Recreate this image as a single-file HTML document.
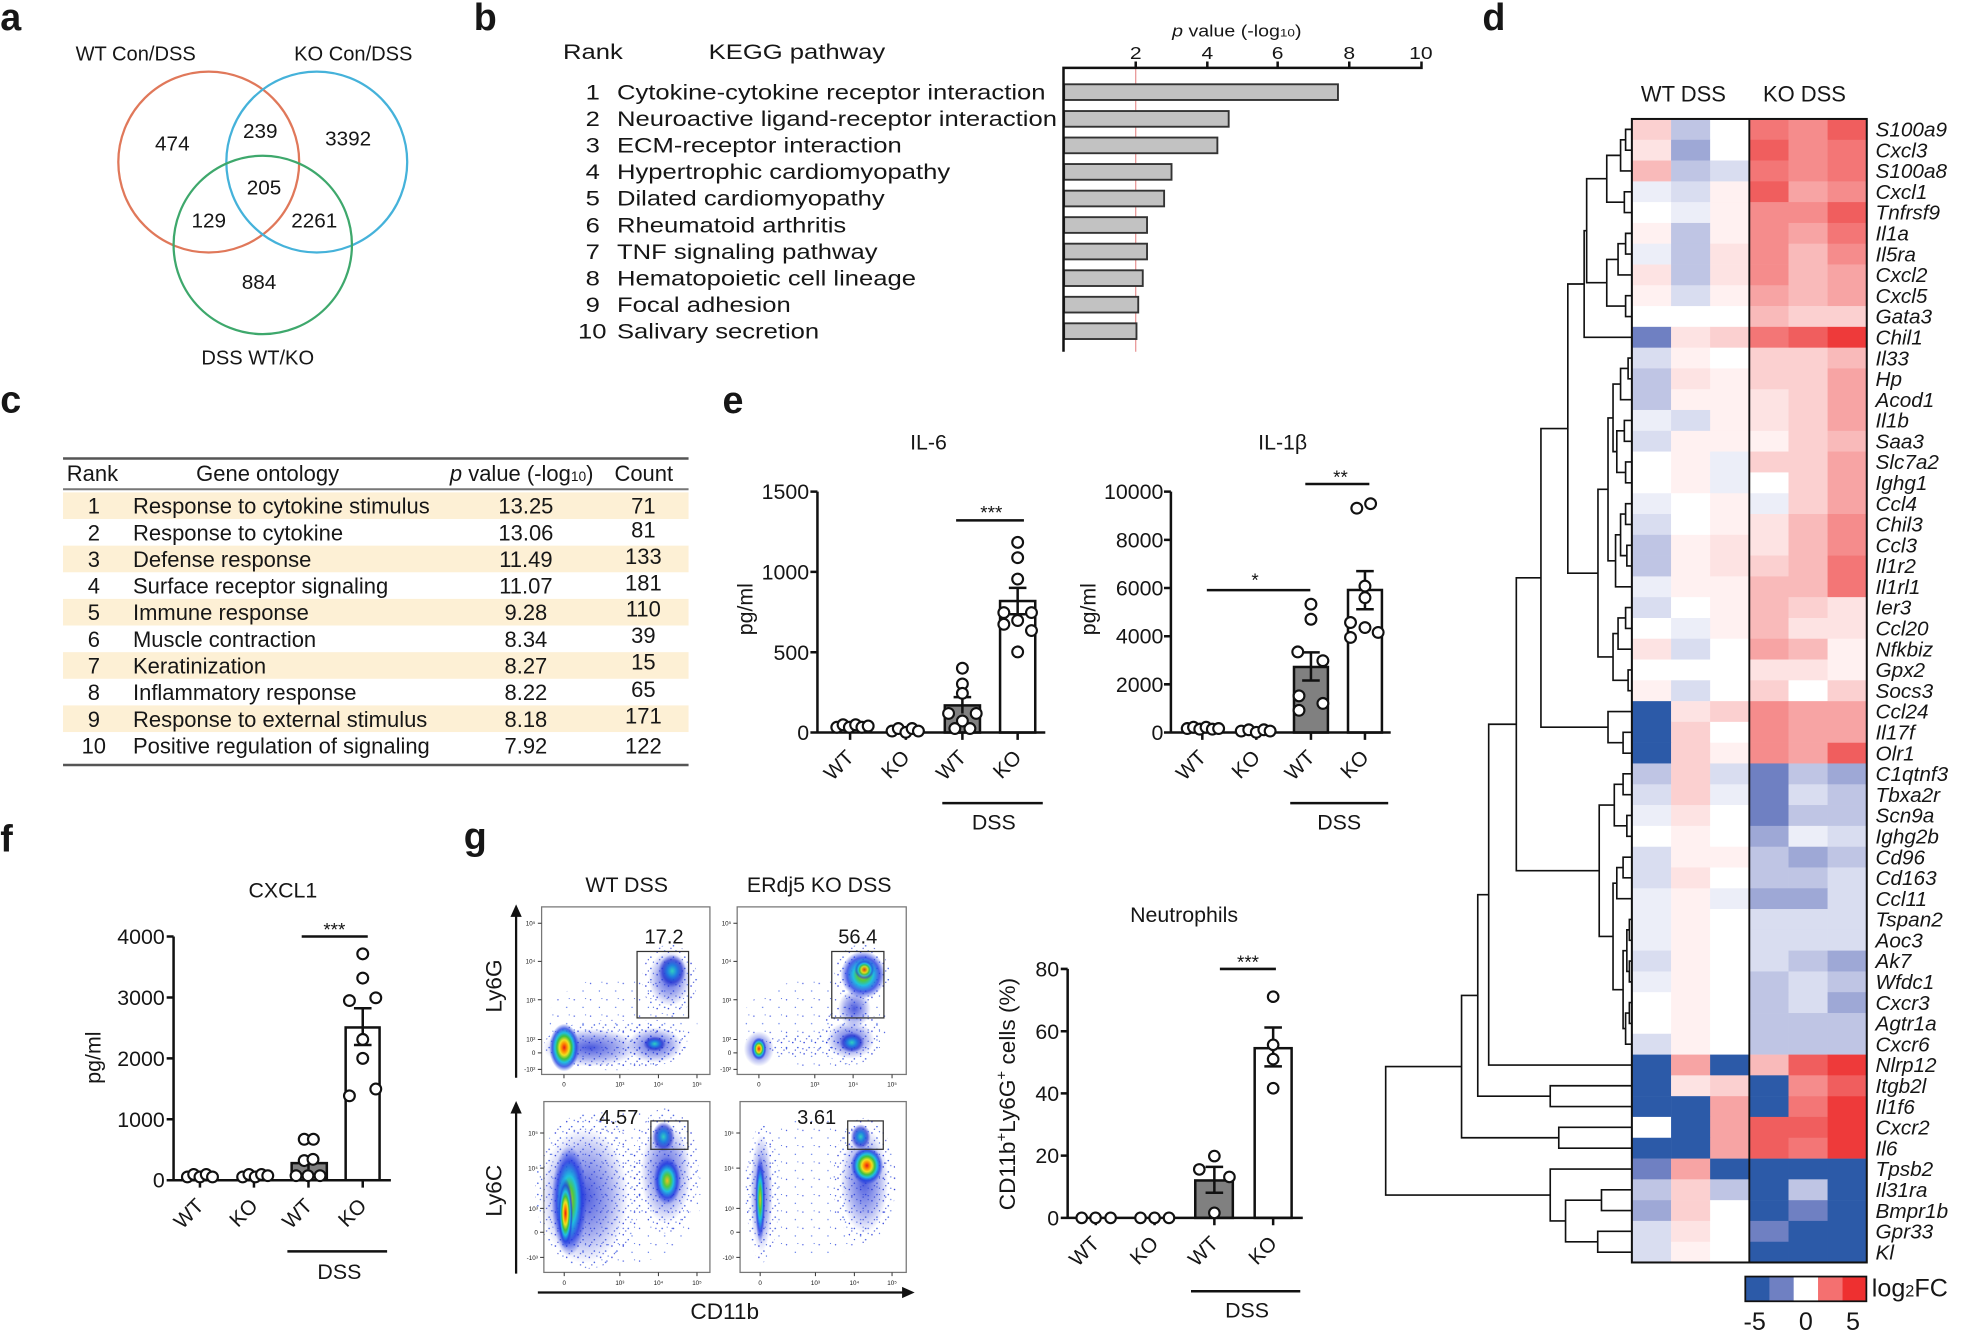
<!DOCTYPE html>
<html><head><meta charset="utf-8">
<style>
html,body{margin:0;padding:0;background:#fff;}
svg{display:block;}
text{font-family:"Liberation Sans",Arial,sans-serif;fill:#161616;}
.pl{font-weight:bold;font-size:30px;}
.ax{stroke:#111;stroke-width:2;fill:none;}
.tk{font-size:17px;}
.xl{font-size:16.5px;text-anchor:end;}
.pt{fill:#fff;stroke:#111;stroke-width:1.7;}
.bar{stroke:#111;stroke-width:2;}
.hm .B{fill:#2c5aa8}.hm .b{fill:#6f80c2}.hm .v{fill:#9ea8d6}.hm .l{fill:#bfc5e4}.hm .m{fill:#d9ddf0}.hm .n{fill:#eceef8}.hm .w{fill:#ffffff}.hm .o{fill:#fff1f1}.hm .p{fill:#fde3e3}.hm .q{fill:#fbd0d0}.hm .r{fill:#f9baba}.hm .s{fill:#f7a4a4}.hm .t{fill:#f58c8c}.hm .u{fill:#f37676}.hm .x{fill:#f05e5e}.hm .z{fill:#ee3a3a}
.gn{font-size:16.5px;font-style:italic;}
.ftk{font-size:5px;fill:#333;}
</style></head><body>
<svg width="1970" height="1344" viewBox="0 0 1568 1070" xmlns="http://www.w3.org/2000/svg">
<defs>
<radialGradient id="gHot"><stop offset="0" stop-color="#e31a1c"/><stop offset="0.18" stop-color="#ff8c00"/><stop offset="0.32" stop-color="#f0e020"/><stop offset="0.48" stop-color="#40c040"/><stop offset="0.62" stop-color="#20c0e0"/><stop offset="0.8" stop-color="#2040e0" stop-opacity="0.8"/><stop offset="1" stop-color="#2040e0" stop-opacity="0"/></radialGradient>
<radialGradient id="gWarm"><stop offset="0" stop-color="#f0c020"/><stop offset="0.25" stop-color="#50c840"/><stop offset="0.45" stop-color="#20c0e0"/><stop offset="0.72" stop-color="#2038e0" stop-opacity="0.8"/><stop offset="1" stop-color="#2038e0" stop-opacity="0"/></radialGradient>
<radialGradient id="gCyan"><stop offset="0" stop-color="#30d0c0"/><stop offset="0.35" stop-color="#2080e0"/><stop offset="0.7" stop-color="#2030d0" stop-opacity="0.7"/><stop offset="1" stop-color="#2030d0" stop-opacity="0"/></radialGradient>
<radialGradient id="gCool"><stop offset="0" stop-color="#2a3cd8" stop-opacity="0.85"/><stop offset="0.6" stop-color="#2a3cd8" stop-opacity="0.4"/><stop offset="1" stop-color="#2a3cd8" stop-opacity="0"/></radialGradient>
<pattern id="spk" width="9" height="9" patternUnits="userSpaceOnUse"><circle cx="1" cy="2" r="0.6" fill="#2636d8"/><circle cx="5" cy="6" r="0.6" fill="#3050e0"/><circle cx="7" cy="1" r="0.5" fill="#4060e0"/><circle cx="3" cy="8" r="0.5" fill="#2a3cd0"/></pattern>
<pattern id="spk2" width="13" height="13" patternUnits="userSpaceOnUse"><circle cx="2" cy="3" r="0.55" fill="#3a50e0"/><circle cx="9" cy="9" r="0.55" fill="#5070e8"/><circle cx="11" cy="2" r="0.45" fill="#4060e0"/></pattern>
</defs>

<!-- ===== Panel a ===== -->
<text class="pl" x="0" y="24">a</text>
<text x="60" y="48" font-size="16">WT Con/DSS</text>
<text x="234" y="48" font-size="16">KO Con/DSS</text>
<circle cx="166" cy="129" r="72" fill="none" stroke="#e0785a" stroke-width="1.8"/>
<circle cx="252" cy="129" r="72" fill="none" stroke="#45b2da" stroke-width="1.8"/>
<circle cx="209" cy="195" r="71" fill="none" stroke="#3ea86c" stroke-width="1.8"/>
<g font-size="16.5" text-anchor="middle">
<text x="137" y="120">474</text>
<text x="207" y="110">239</text>
<text x="277" y="116">3392</text>
<text x="210" y="155">205</text>
<text x="166" y="181">129</text>
<text x="250" y="181">2261</text>
<text x="206" y="230">884</text>
<text x="205" y="290" font-size="16">DSS WT/KO</text>
</g>

<!-- ===== Panel b ===== -->
<text class="pl" x="377" y="24">b</text>
<g font-size="17">
<text transform="translate(448,47) scale(1.2,1)">Rank</text>
<text transform="translate(564,47) scale(1.2,1)">KEGG pathway</text>
</g>
<text transform="translate(933,29) scale(1.2,1)" font-size="13"><tspan font-style="italic">p</tspan> value (-log<tspan font-size="9">10</tspan>)</text>
<g font-size="14" text-anchor="middle">
<text transform="translate(904,47) scale(1.2,1)">2</text>
<text transform="translate(961,47) scale(1.2,1)">4</text>
<text transform="translate(1017,47) scale(1.2,1)">6</text>
<text transform="translate(1074,47) scale(1.2,1)">8</text>
<text transform="translate(1131,47) scale(1.2,1)">10</text>
</g>
<line x1="904" y1="54" x2="904" y2="280" stroke="#e58a8a" stroke-width="0.9"/>
<g stroke="#333" stroke-width="1.5" fill="#c2c2c2">
<rect x="847" y="67.1" width="218" height="12.5"/>
<rect x="847" y="88.4" width="131" height="12.5"/>
<rect x="847" y="109.5" width="122" height="12.5"/>
<rect x="847" y="130.6" width="85.5" height="12.5"/>
<rect x="847" y="151.8" width="79.6" height="12.5"/>
<rect x="847" y="172.9" width="66" height="12.5"/>
<rect x="847" y="194" width="66" height="12.5"/>
<rect x="847" y="215.2" width="62.6" height="12.5"/>
<rect x="847" y="236.3" width="59" height="12.5"/>
<rect x="847" y="257.4" width="57.6" height="12.5"/>
</g>
<path d="M846.5 280V54H1132.5M904 54V49M961 54V49M1017 54V49M1074 54V49M1131.5 54V49" class="ax" stroke-width="1.8"/>
<g font-size="17">
<text transform="translate(466,79.3) scale(1.2,1)">1</text>
<text transform="translate(466,100.4) scale(1.2,1)">2</text>
<text transform="translate(466,121.6) scale(1.2,1)">3</text>
<text transform="translate(466,142.7) scale(1.2,1)">4</text>
<text transform="translate(466,163.8) scale(1.2,1)">5</text>
<text transform="translate(466,185) scale(1.2,1)">6</text>
<text transform="translate(466,206.1) scale(1.2,1)">7</text>
<text transform="translate(466,227.2) scale(1.2,1)">8</text>
<text transform="translate(466,248.4) scale(1.2,1)">9</text>
<text transform="translate(460,269.5) scale(1.2,1)">10</text>
<text transform="translate(491,79.3) scale(1.2,1)">Cytokine-cytokine receptor interaction</text>
<text transform="translate(491,100.4) scale(1.2,1)">Neuroactive ligand-receptor interaction</text>
<text transform="translate(491,121.6) scale(1.2,1)">ECM-receptor interaction</text>
<text transform="translate(491,142.7) scale(1.2,1)">Hypertrophic cardiomyopathy</text>
<text transform="translate(491,163.8) scale(1.2,1)">Dilated cardiomyopathy</text>
<text transform="translate(491,185) scale(1.2,1)">Rheumatoid arthritis</text>
<text transform="translate(491,206.1) scale(1.2,1)">TNF signaling pathway</text>
<text transform="translate(491,227.2) scale(1.2,1)">Hematopoietic cell lineage</text>
<text transform="translate(491,248.4) scale(1.2,1)">Focal adhesion</text>
<text transform="translate(491,269.5) scale(1.2,1)">Salivary secretion</text>
</g>

<!-- ===== Panel c ===== -->
<text class="pl" x="0" y="328.5">c</text>
<g fill="#fdf0d5">
<rect x="50" y="392" width="498" height="21.2"/>
<rect x="50" y="434.4" width="498" height="21.2"/>
<rect x="50" y="476.8" width="498" height="21.2"/>
<rect x="50" y="519.2" width="498" height="21.2"/>
<rect x="50" y="561.6" width="498" height="21.2"/>
</g>
<line x1="50" y1="365" x2="548" y2="365" stroke="#555" stroke-width="2"/>
<line x1="50" y1="389.5" x2="548" y2="389.5" stroke="#777" stroke-width="1.6"/>
<line x1="50" y1="609" x2="548" y2="609" stroke="#555" stroke-width="2"/>
<g font-size="17.5">
<text x="53" y="383">Rank</text>
<text x="156" y="383">Gene ontology</text>
<text x="358" y="383"><tspan font-style="italic">p</tspan> value (-log<tspan font-size="11">10</tspan>)</text>
<text x="489" y="383">Count</text>
</g>
<g font-size="17.5" text-anchor="middle">
<text x="74.5" y="409">1</text><text x="74.5" y="430.2">2</text><text x="74.5" y="451.4">3</text><text x="74.5" y="472.6">4</text><text x="74.5" y="493.8">5</text><text x="74.5" y="515">6</text><text x="74.5" y="536.2">7</text><text x="74.5" y="557.4">8</text><text x="74.5" y="578.6">9</text><text x="74.5" y="599.8">10</text>
<text x="418.5" y="409">13.25</text><text x="418.5" y="430.2">13.06</text><text x="418.5" y="451.4">11.49</text><text x="418.5" y="472.6">11.07</text><text x="418.5" y="493.8">9.28</text><text x="418.5" y="515">8.34</text><text x="418.5" y="536.2">8.27</text><text x="418.5" y="557.4">8.22</text><text x="418.5" y="578.6">8.18</text><text x="418.5" y="599.8">7.92</text>
<text x="512" y="409">71</text><text x="512" y="428">81</text><text x="512" y="449">133</text><text x="512" y="470">181</text><text x="512" y="491">110</text><text x="512" y="512">39</text><text x="512" y="533">15</text><text x="512" y="555">65</text><text x="512" y="576">171</text><text x="512" y="599.8">122</text>
</g>
<g font-size="17.5">
<text x="105.7" y="409">Response to cytokine stimulus</text>
<text x="105.7" y="430.2">Response to cytokine</text>
<text x="105.7" y="451.4">Defense response</text>
<text x="105.7" y="472.6">Surface receptor signaling</text>
<text x="105.7" y="493.8">Immune response</text>
<text x="105.7" y="515">Muscle contraction</text>
<text x="105.7" y="536.2">Keratinization</text>
<text x="105.7" y="557.4">Inflammatory response</text>
<text x="105.7" y="578.6">Response to external stimulus</text>
<text x="105.7" y="599.8">Positive regulation of signaling</text>
</g>

<!-- ===== Panel e ===== -->
<text class="pl" x="575" y="329">e</text>
<!-- IL-6 -->
<text x="739" y="358" font-size="17" text-anchor="middle">IL-6</text>
<text transform="translate(599,485) rotate(-90)" font-size="17" text-anchor="middle">pg/ml</text>
<g class="tk" text-anchor="end">
<text x="644" y="589">0</text><text x="644" y="525.3">500</text><text x="644" y="461.3">1000</text><text x="644" y="397.4">1500</text>
</g>
<rect class="bar" x="752" y="561.6" width="28" height="21.6" fill="#808080"/>
<rect class="bar" x="796" y="478.5" width="28" height="104.7" fill="#fff"/>
<path class="ax" d="M650.6 391.4V583.2H832M645 583.2H650.6M645 519.3H650.6M645 455.3H650.6M645 391.4H650.6M676.6 583.2V589M721 583.2V589M766 583.2V589M810 583.2V589"/>
<path class="ax" d="M766 555V568M759 555H773M810 468V489M803 468H817M803 489H817"/>
<g class="pt">
<circle cx="666" cy="579" r="4.3"/><circle cx="671" cy="577" r="4.3"/><circle cx="676" cy="579" r="4.3"/><circle cx="681" cy="577" r="4.3"/><circle cx="686" cy="579" r="4.3"/><circle cx="691" cy="578" r="4.3"/>
<circle cx="710" cy="582" r="4.3"/><circle cx="715" cy="580" r="4.3"/><circle cx="721" cy="583" r="4.3"/><circle cx="726" cy="580" r="4.3"/><circle cx="731" cy="582" r="4.3"/>
<circle cx="766" cy="532" r="4.3"/><circle cx="766" cy="544.5" r="4.3"/><circle cx="766" cy="552" r="4.3"/><circle cx="755" cy="568" r="4.3"/><circle cx="777" cy="568" r="4.3"/><circle cx="760" cy="580" r="4.3"/><circle cx="772" cy="580" r="4.3"/><circle cx="766" cy="574" r="4.3"/>
<circle cx="810" cy="431.8" r="4.3"/><circle cx="810" cy="444" r="4.3"/><circle cx="810" cy="461" r="4.3"/><circle cx="799" cy="487.7" r="4.3"/><circle cx="821" cy="487.7" r="4.3"/><circle cx="810" cy="494" r="4.3"/><circle cx="799" cy="497" r="4.3"/><circle cx="821" cy="502" r="4.3"/><circle cx="810" cy="519" r="4.3"/>
</g>
<line x1="761" y1="414.3" x2="815" y2="414.3" class="ax"/>
<text x="789" y="413" font-size="15" text-anchor="middle">***</text>
<g class="xl">
<text transform="translate(680.6,604) rotate(-45)">WT</text>
<text transform="translate(725,604) rotate(-45)">KO</text>
<text transform="translate(770,604) rotate(-45)">WT</text>
<text transform="translate(814,604) rotate(-45)">KO</text>
</g>
<line x1="750" y1="639.4" x2="830" y2="639.4" class="ax"/>
<text x="791" y="660.5" font-size="17" text-anchor="middle">DSS</text>

<!-- IL-1b -->
<text x="1021" y="358" font-size="17" text-anchor="middle">IL-1β</text>
<text transform="translate(872,485) rotate(-90)" font-size="17" text-anchor="middle">pg/ml</text>
<g class="tk" text-anchor="end">
<text x="926" y="589">0</text><text x="926" y="550.8">2000</text><text x="926" y="512.5">4000</text><text x="926" y="474.1">6000</text><text x="926" y="435.8">8000</text><text x="926" y="397.4">10000</text>
</g>
<rect class="bar" x="1030" y="531" width="27" height="52.2" fill="#808080"/>
<rect class="bar" x="1073" y="469.7" width="27" height="113.5" fill="#fff"/>
<path class="ax" d="M932 391.4V583.2H1107M926.5 583.2H932M926.5 544.8H932M926.5 506.5H932M926.5 468.1H932M926.5 429.8H932M926.5 391.4H932M957 583.2V589M1000 583.2V589M1043.5 583.2V589M1086.5 583.2V589"/>
<path class="ax" d="M1043.5 519.4V541.8M1036.5 519.4H1050.5M1036.5 541.8H1050.5M1086.5 454.7V485M1079.5 454.7H1093.5M1079.5 485H1093.5"/>
<g class="pt">
<circle cx="945" cy="580" r="4.3"/><circle cx="950" cy="579" r="4.3"/><circle cx="955" cy="580.5" r="4.3"/><circle cx="960" cy="579" r="4.3"/><circle cx="965" cy="580.5" r="4.3"/><circle cx="970" cy="580" r="4.3"/>
<circle cx="988" cy="582" r="4.3"/><circle cx="994" cy="581" r="4.3"/><circle cx="1000" cy="583" r="4.3"/><circle cx="1006" cy="581" r="4.3"/><circle cx="1011" cy="582" r="4.3"/>
<circle cx="1033" cy="519" r="4.3"/><circle cx="1043.5" cy="481" r="4.3"/><circle cx="1043.5" cy="493" r="4.3"/><circle cx="1053" cy="526" r="4.3"/><circle cx="1034" cy="554" r="4.3"/><circle cx="1034" cy="565.5" r="4.3"/><circle cx="1053" cy="560" r="4.3"/>
<circle cx="1080" cy="404.6" r="4.3"/><circle cx="1091" cy="401" r="4.3"/><circle cx="1086.5" cy="466.6" r="4.3"/><circle cx="1086.5" cy="475.8" r="4.3"/><circle cx="1075" cy="495.6" r="4.3"/><circle cx="1097" cy="503.5" r="4.3"/><circle cx="1075" cy="507.5" r="4.3"/><circle cx="1086.5" cy="499.6" r="4.3"/>
</g>
<line x1="960.6" y1="469.8" x2="1043" y2="469.8" class="ax"/>
<text x="999" y="467" font-size="15" text-anchor="middle">*</text>
<line x1="1039" y1="385.3" x2="1090" y2="385.3" class="ax"/>
<text x="1067" y="385" font-size="15" text-anchor="middle">**</text>
<g class="xl">
<text transform="translate(961,604) rotate(-45)">WT</text>
<text transform="translate(1004,604) rotate(-45)">KO</text>
<text transform="translate(1047.5,604) rotate(-45)">WT</text>
<text transform="translate(1090.5,604) rotate(-45)">KO</text>
</g>
<line x1="1027" y1="639.4" x2="1105" y2="639.4" class="ax"/>
<text x="1066" y="660.5" font-size="17" text-anchor="middle">DSS</text>

<!-- ===== Panel f ===== -->
<text class="pl" x="0" y="678">f</text>
<text x="225" y="714.5" font-size="17" text-anchor="middle">CXCL1</text>
<text transform="translate(80,842) rotate(-90)" font-size="17" text-anchor="middle">pg/ml</text>
<g class="tk" text-anchor="end">
<text x="131" y="945.6">0</text><text x="131" y="897.1">1000</text><text x="131" y="848.6">2000</text><text x="131" y="800.1">3000</text><text x="131" y="751.6">4000</text>
</g>
<rect class="bar" x="232" y="926" width="28" height="13.6" fill="#808080"/>
<rect class="bar" x="275" y="818" width="27" height="121.6" fill="#fff"/>
<path class="ax" d="M138 745.6V939.6H311M132.5 939.6H138M132.5 891.1H138M132.5 842.6H138M132.5 794.1H138M132.5 745.6H138M159 939.6V945.5M202 939.6V945.5M245.4 939.6V945.5M288.6 939.6V945.5"/>
<path class="ax" d="M245.4 921V931M238.4 921H252.4M288.6 802.7V832M281.6 802.7H295.6M281.6 832H295.6"/>
<g class="pt">
<circle cx="149" cy="937" r="4.3"/><circle cx="154" cy="935" r="4.3"/><circle cx="159" cy="937" r="4.3"/><circle cx="164" cy="935" r="4.3"/><circle cx="169" cy="937" r="4.3"/>
<circle cx="193" cy="937" r="4.3"/><circle cx="198" cy="935" r="4.3"/><circle cx="203" cy="937" r="4.3"/><circle cx="208" cy="935" r="4.3"/><circle cx="213" cy="936" r="4.3"/>
<circle cx="242" cy="907" r="4.3"/><circle cx="249.3" cy="907" r="4.3"/><circle cx="242" cy="924" r="4.3"/><circle cx="249" cy="923" r="4.3"/><circle cx="235.5" cy="936" r="4.3"/><circle cx="254.6" cy="936" r="4.3"/><circle cx="245" cy="936" r="4.3"/>
<circle cx="288.6" cy="759.4" r="4.3"/><circle cx="288.6" cy="778.7" r="4.3"/><circle cx="278" cy="796.6" r="4.3"/><circle cx="299" cy="794.4" r="4.3"/><circle cx="288.6" cy="827.5" r="4.3"/><circle cx="288.6" cy="842.6" r="4.3"/><circle cx="299" cy="867" r="4.3"/><circle cx="278" cy="872.4" r="4.3"/>
</g>
<line x1="240" y1="745.6" x2="292.6" y2="745.6" class="ax"/>
<text x="266" y="745" font-size="15" text-anchor="middle">***</text>
<g class="xl">
<text transform="translate(163,961) rotate(-45)">WT</text>
<text transform="translate(206,961) rotate(-45)">KO</text>
<text transform="translate(249.4,961) rotate(-45)">WT</text>
<text transform="translate(292.6,961) rotate(-45)">KO</text>
</g>
<line x1="228.6" y1="996.3" x2="308" y2="996.3" class="ax"/>
<text x="270" y="1018.4" font-size="17" text-anchor="middle">DSS</text>

<!-- ===== Panel g (flow) ===== -->
<text class="pl" x="369" y="676">g</text>
<text x="498.7" y="710" font-size="17" text-anchor="middle">WT DSS</text>
<text x="652" y="710" font-size="17" text-anchor="middle">ERdj5 KO DSS</text>

<!-- TL -->
<g>
<ellipse cx="495" cy="815" rx="60" ry="38" fill="url(#spk2)"/>
<ellipse cx="488" cy="832" rx="55" ry="20" fill="url(#spk)"/>
<ellipse cx="470" cy="834" rx="38" ry="15" fill="url(#gCool)"/>
<ellipse cx="449" cy="834" rx="12" ry="19" fill="url(#gHot)"/>
<ellipse cx="521" cy="830" rx="26" ry="18" fill="url(#spk)"/>
<ellipse cx="521" cy="832" rx="22" ry="14" fill="url(#gCool)"/>
<ellipse cx="521" cy="831" rx="9" ry="6" fill="url(#gCyan)"/>
<ellipse cx="533" cy="780" rx="22" ry="28" fill="url(#spk)"/>
<ellipse cx="533" cy="779" rx="17" ry="22" fill="url(#gCool)"/>
<ellipse cx="535" cy="773" rx="11" ry="13" fill="url(#gCyan)"/>
</g>
<!-- TR -->
<g>
<ellipse cx="650" cy="815" rx="60" ry="35" fill="url(#spk2)"/>
<ellipse cx="604" cy="835" rx="12" ry="14" fill="url(#gCool)"/>
<ellipse cx="604" cy="835" rx="6" ry="9" fill="url(#gHot)"/>
<ellipse cx="640" cy="832" rx="32" ry="9" fill="url(#spk)"/>
<ellipse cx="677" cy="824" rx="24" ry="24" fill="url(#spk)"/>
<ellipse cx="677" cy="828" rx="19" ry="15" fill="url(#gCool)"/>
<ellipse cx="678" cy="830" rx="10" ry="8" fill="url(#gCyan)"/>
<ellipse cx="680" cy="803" rx="13" ry="15" fill="url(#gCool)"/>
<ellipse cx="686" cy="776" rx="22" ry="24" fill="url(#spk)"/>
<ellipse cx="687" cy="776" rx="18" ry="19" fill="url(#gWarm)"/>
<ellipse cx="688" cy="772" rx="8" ry="8" fill="url(#gHot)" opacity="0.8"/>
</g>
<!-- BL -->
<g>
<ellipse cx="495" cy="945" rx="65" ry="62" fill="url(#spk2)"/>
<ellipse cx="468" cy="948" rx="42" ry="62" fill="url(#spk)"/>
<ellipse cx="465" cy="952" rx="35" ry="54" fill="url(#gCool)"/>
<ellipse cx="453" cy="956" rx="14" ry="44" fill="url(#gWarm)"/>
<ellipse cx="450" cy="966" rx="6" ry="28" fill="url(#gHot)"/>
<ellipse cx="530" cy="932" rx="26" ry="50" fill="url(#spk)"/>
<ellipse cx="530" cy="934" rx="20" ry="40" fill="url(#gCool)"/>
<ellipse cx="531" cy="940" rx="11" ry="19" fill="url(#gWarm)"/>
<ellipse cx="528" cy="905" rx="9" ry="12" fill="url(#gCyan)"/>
</g>
<!-- BR -->
<g>
<ellipse cx="650" cy="945" rx="60" ry="55" fill="url(#spk2)"/>
<ellipse cx="607" cy="950" rx="13" ry="55" fill="url(#spk)"/>
<ellipse cx="606" cy="950" rx="9" ry="47" fill="url(#gCool)"/>
<ellipse cx="605" cy="955" rx="4" ry="35" fill="url(#gWarm)"/>
<ellipse cx="688" cy="940" rx="25" ry="50" fill="url(#spk)"/>
<ellipse cx="688" cy="940" rx="19" ry="42" fill="url(#gCool)"/>
<ellipse cx="690" cy="928" rx="13" ry="15" fill="url(#gHot)"/>
<ellipse cx="685" cy="905" rx="8" ry="10" fill="url(#gCyan)"/>
</g>
<g fill="none" stroke="#777" stroke-width="1">
<rect x="431" y="722" width="134" height="133.4"/>
<rect x="586.7" y="722" width="134.6" height="133.4"/>
<rect x="432.8" y="877" width="132.2" height="136"/>
<rect x="589" y="877" width="132.3" height="136"/>
</g>
<g fill="none" stroke="#333" stroke-width="1">
<rect x="507" y="757.5" width="41" height="52.9"/>
<rect x="662" y="757.5" width="41.5" height="52.9"/>
<rect x="518" y="892.4" width="29.5" height="22.6"/>
<rect x="674.7" y="892.4" width="28.3" height="22.6"/>
</g>
<g stroke="#333" stroke-width="0.8">
<path d="M448.8 855.4v3M493.3 855.4v3M524 855.4v3M554.7 855.4v3M431 735h-3M431 765.4h-3M431 795.9h-3M431 827.6h-3M431 838.2h-3M431 851.4h-3"/>
<path d="M604 855.4v3M648.5 855.4v3M679 855.4v3M710 855.4v3M586.7 735h-3M586.7 765.4h-3M586.7 795.9h-3M586.7 827.6h-3M586.7 838.2h-3M586.7 851.4h-3"/>
<path d="M449 1013v3M493.3 1013v3M524 1013v3M554.7 1013v3M432.8 902h-3M432.8 930h-3M432.8 962h-3M432.8 981h-3M432.8 1001h-3"/>
<path d="M605 1013v3M649 1013v3M680 1013v3M710 1013v3M589 902h-3M589 930h-3M589 962h-3M589 981h-3M589 1001h-3"/>
</g>
<g class="ftk" text-anchor="middle">
<text x="448.8" y="865">0</text><text x="493.3" y="865">10³</text><text x="524" y="865">10⁴</text><text x="554.7" y="865">10⁵</text>
<text x="604" y="865">0</text><text x="648.5" y="865">10³</text><text x="679" y="865">10⁴</text><text x="710" y="865">10⁵</text>
<text x="449" y="1023">0</text><text x="493.3" y="1023">10³</text><text x="524" y="1023">10⁴</text><text x="554.7" y="1023">10⁵</text>
<text x="605" y="1023">0</text><text x="649" y="1023">10³</text><text x="680" y="1023">10⁴</text><text x="710" y="1023">10⁵</text>
</g>
<g class="ftk" text-anchor="end">
<text x="426" y="737">10⁵</text><text x="426" y="767">10⁴</text><text x="426" y="798">10³</text><text x="426" y="829">10²</text><text x="426" y="840">0</text><text x="426" y="853">-10²</text>
<text x="582" y="737">10⁵</text><text x="582" y="767">10⁴</text><text x="582" y="798">10³</text><text x="582" y="829">10²</text><text x="582" y="840">0</text><text x="582" y="853">-10²</text>
<text x="428" y="904">10⁵</text><text x="428" y="932">10⁴</text><text x="428" y="964">10³</text><text x="428" y="983">0</text><text x="428" y="1003">-10³</text>
<text x="584" y="904">10⁵</text><text x="584" y="932">10⁴</text><text x="584" y="964">10³</text><text x="584" y="983">0</text><text x="584" y="1003">-10³</text>
</g>
<g font-size="16" text-anchor="middle">
<text x="528.5" y="751">17.2</text>
<text x="682.7" y="751">56.4</text>
<text x="492.5" y="895">4.57</text>
<text x="650" y="895">3.61</text>
</g>
<g stroke="#111" stroke-width="1.8" fill="#111">
<line x1="410.7" y1="858" x2="410.7" y2="728"/>
<path d="M410.7 720l-4.5 10h9z" stroke="none"/>
<line x1="410.7" y1="1014" x2="410.7" y2="884"/>
<path d="M410.7 876.5l-4.5 10h9z" stroke="none"/>
<line x1="428" y1="1029" x2="720" y2="1029"/>
<path d="M728 1029l-10 -4.5v9z" stroke="none"/>
</g>
<text transform="translate(399,785) rotate(-90)" font-size="18" text-anchor="middle">Ly6G</text>
<text transform="translate(399,948) rotate(-90)" font-size="18" text-anchor="middle">Ly6C</text>
<text x="576.8" y="1050" font-size="18" text-anchor="middle">CD11b</text>

<!-- ===== Neutrophils ===== -->
<text x="942.5" y="734" font-size="17" text-anchor="middle">Neutrophils</text>
<text transform="translate(808,871) rotate(-90)" font-size="18" text-anchor="middle">CD11b<tspan font-size="12" dy="-7">+</tspan><tspan dy="7">Ly6G</tspan><tspan font-size="12" dy="-7">+</tspan><tspan dy="7"> cells (%)</tspan></text>
<g class="tk" text-anchor="end">
<text x="843" y="975.6">0</text><text x="843" y="926">20</text><text x="843" y="876.5">40</text><text x="843" y="827">60</text><text x="843" y="777.4">80</text>
</g>
<rect class="bar" x="951.4" y="939.8" width="29.9" height="29.8" fill="#808080"/>
<rect class="bar" x="998.7" y="834.5" width="29.4" height="135.1" fill="#fff"/>
<path class="ax" d="M849.8 771.4V969.6H1037M844.3 969.6H849.8M844.3 920H849.8M844.3 870.5H849.8M844.3 821H849.8M844.3 771.4H849.8M872.2 969.6V975.5M919 969.6V975.5M966.6 969.6V975.5M1013.4 969.6V975.5"/>
<path class="ax" d="M966.6 929V949.6M959.6 929H973.6M959.6 949.6H973.6M1013.4 818V849M1006.4 818H1020.4M1006.4 849H1020.4"/>
<g class="pt">
<circle cx="861" cy="969.6" r="4.2"/><circle cx="872" cy="969.6" r="4.2"/><circle cx="884" cy="969.6" r="4.2"/>
<circle cx="907.8" cy="969.6" r="4.2"/><circle cx="919" cy="969.6" r="4.2"/><circle cx="930.5" cy="969.6" r="4.2"/>
<circle cx="954.6" cy="931" r="4.2"/><circle cx="966.6" cy="920.4" r="4.2"/><circle cx="978.6" cy="937" r="4.2"/><circle cx="966.6" cy="965.6" r="4.2"/>
<circle cx="1013.4" cy="793.5" r="4.2"/><circle cx="1013.4" cy="831.8" r="4.2"/><circle cx="1013.4" cy="843.2" r="4.2"/><circle cx="1013.4" cy="866.4" r="4.2"/>
</g>
<line x1="971" y1="771.4" x2="1015.6" y2="771.4" class="ax"/>
<text x="993.4" y="771" font-size="15" text-anchor="middle">***</text>
<g class="xl">
<text transform="translate(876,991) rotate(-45)">WT</text>
<text transform="translate(923,991) rotate(-45)">KO</text>
<text transform="translate(970.6,991) rotate(-45)">WT</text>
<text transform="translate(1017.4,991) rotate(-45)">KO</text>
</g>
<line x1="948" y1="1028" x2="1035" y2="1028" class="ax"/>
<text x="992.6" y="1049" font-size="17" text-anchor="middle">DSS</text>

<!-- ===== Panel d (heatmap) ===== -->
<text class="pl" x="1180" y="24">d</text>
<text x="1340" y="81" font-size="17.5" text-anchor="middle">WT DSS</text>
<text x="1436.4" y="81" font-size="17.5" text-anchor="middle">KO DSS</text>
<path fill="none" stroke="#111" stroke-width="1.3" d="
M1299 103H1294V119.6H1299 M1294 111.3H1290V136.1H1299 M1299 152.7H1293V169.2H1299 M1290 123.7H1279V160.95H1293
M1299 185.8H1294V202.3H1299 M1294 194.05H1288V218.9H1299 M1299 235.4H1294V252H1299 M1288 206.5H1279V243.7H1294
M1279 142.3H1263V225.1H1279 M1263 183.7H1261V268.5H1299
M1299 285.1H1296V301.6H1299 M1296 293.35H1290V318.2H1299 M1299 334.7H1293V351.3H1299 M1299 367.8H1294V384.4H1299
M1293 343H1287V376.1H1294 M1290 305.8H1284V359.55H1287 M1299 401H1294V417.5H1299 M1299 434.1H1295V450.6H1299
M1294 409.25H1290V442.35H1295 M1290 425.8H1286V467.2H1299 M1284 332.7H1280V446.5H1286 M1299 483.7H1294V500.3H1299
M1294 492H1288V516.8H1299 M1299 533.4H1296V549.9H1299 M1288 504.4H1284V541.65H1296 M1280 389.6H1272V523H1284
M1261 226.1H1248V456.3H1272
M1299 583H1292V599.6H1299 M1299 566.5H1280V591.3H1292
M1248 341.2H1226.6V578.9H1280
M1299 616.1H1292V632.7H1299 M1299 649.2H1295V665.8H1299 M1292 624.4H1285V657.5H1295 M1299 682.4H1292V698.9H1299
M1292 690.65H1287V715.5H1299 M1299 732H1297V748.6H1299 M1299 765.1H1297V781.7H1299 M1297 740.3H1295V773.4H1297
M1299 798.2H1297V814.8H1299 M1297 806.5H1294V831.3H1299 M1295 756.85H1292V818.9H1294 M1287 703.1H1284V787.9H1292
M1285 640.95H1273V745.5H1284
M1226.6 460H1207V693.2H1273 M1207 576.6H1185V847.9H1299 M1299 864.4H1234V881H1299 M1185 712.25H1176.3V872.7H1234
M1299 897.5H1240.8V914.1H1299 M1176.3 792.5H1163.4V905.8H1240.8
M1299 947.2H1274.8V963.8H1299 M1299 980.3H1271.8V996.9H1299 M1274.8 955.5H1246.2V988.6H1271.8 M1299 930.7H1234V972.05H1246.2
M1163.4 849.15H1103V951.4H1234"/>
<g class="hm">
<g transform="translate(0,94.7)"><rect x="1299" width="31.4" height="16.8" class="q"/><rect x="1330.2" width="31.4" height="16.8" class="l"/><rect x="1361.3" width="31.4" height="16.8" class="w"/><rect x="1392.5" width="31.4" height="16.8" class="u"/><rect x="1423.7" width="31.4" height="16.8" class="t"/><rect x="1454.8" width="31.4" height="16.8" class="x"/></g>
<g transform="translate(0,111.3)"><rect x="1299" width="31.4" height="16.8" class="p"/><rect x="1330.2" width="31.4" height="16.8" class="v"/><rect x="1361.3" width="31.4" height="16.8" class="w"/><rect x="1392.5" width="31.4" height="16.8" class="x"/><rect x="1423.7" width="31.4" height="16.8" class="t"/><rect x="1454.8" width="31.4" height="16.8" class="u"/></g>
<g transform="translate(0,127.8)"><rect x="1299" width="31.4" height="16.8" class="r"/><rect x="1330.2" width="31.4" height="16.8" class="l"/><rect x="1361.3" width="31.4" height="16.8" class="m"/><rect x="1392.5" width="31.4" height="16.8" class="u"/><rect x="1423.7" width="31.4" height="16.8" class="t"/><rect x="1454.8" width="31.4" height="16.8" class="u"/></g>
<g transform="translate(0,144.4)"><rect x="1299" width="31.4" height="16.8" class="n"/><rect x="1330.2" width="31.4" height="16.8" class="m"/><rect x="1361.3" width="31.4" height="16.8" class="o"/><rect x="1392.5" width="31.4" height="16.8" class="x"/><rect x="1423.7" width="31.4" height="16.8" class="s"/><rect x="1454.8" width="31.4" height="16.8" class="t"/></g>
<g transform="translate(0,160.9)"><rect x="1299" width="31.4" height="16.8" class="w"/><rect x="1330.2" width="31.4" height="16.8" class="n"/><rect x="1361.3" width="31.4" height="16.8" class="o"/><rect x="1392.5" width="31.4" height="16.8" class="t"/><rect x="1423.7" width="31.4" height="16.8" class="t"/><rect x="1454.8" width="31.4" height="16.8" class="x"/></g>
<g transform="translate(0,177.5)"><rect x="1299" width="31.4" height="16.8" class="o"/><rect x="1330.2" width="31.4" height="16.8" class="l"/><rect x="1361.3" width="31.4" height="16.8" class="o"/><rect x="1392.5" width="31.4" height="16.8" class="t"/><rect x="1423.7" width="31.4" height="16.8" class="s"/><rect x="1454.8" width="31.4" height="16.8" class="u"/></g>
<g transform="translate(0,194)"><rect x="1299" width="31.4" height="16.8" class="n"/><rect x="1330.2" width="31.4" height="16.8" class="l"/><rect x="1361.3" width="31.4" height="16.8" class="p"/><rect x="1392.5" width="31.4" height="16.8" class="t"/><rect x="1423.7" width="31.4" height="16.8" class="r"/><rect x="1454.8" width="31.4" height="16.8" class="t"/></g>
<g transform="translate(0,210.6)"><rect x="1299" width="31.4" height="16.8" class="p"/><rect x="1330.2" width="31.4" height="16.8" class="l"/><rect x="1361.3" width="31.4" height="16.8" class="p"/><rect x="1392.5" width="31.4" height="16.8" class="t"/><rect x="1423.7" width="31.4" height="16.8" class="r"/><rect x="1454.8" width="31.4" height="16.8" class="s"/></g>
<g transform="translate(0,227.1)"><rect x="1299" width="31.4" height="16.8" class="o"/><rect x="1330.2" width="31.4" height="16.8" class="m"/><rect x="1361.3" width="31.4" height="16.8" class="o"/><rect x="1392.5" width="31.4" height="16.8" class="s"/><rect x="1423.7" width="31.4" height="16.8" class="r"/><rect x="1454.8" width="31.4" height="16.8" class="s"/></g>
<g transform="translate(0,243.7)"><rect x="1299" width="31.4" height="16.8" class="w"/><rect x="1330.2" width="31.4" height="16.8" class="w"/><rect x="1361.3" width="31.4" height="16.8" class="w"/><rect x="1392.5" width="31.4" height="16.8" class="r"/><rect x="1423.7" width="31.4" height="16.8" class="q"/><rect x="1454.8" width="31.4" height="16.8" class="q"/></g>
<g transform="translate(0,260.2)"><rect x="1299" width="31.4" height="16.8" class="b"/><rect x="1330.2" width="31.4" height="16.8" class="p"/><rect x="1361.3" width="31.4" height="16.8" class="q"/><rect x="1392.5" width="31.4" height="16.8" class="u"/><rect x="1423.7" width="31.4" height="16.8" class="x"/><rect x="1454.8" width="31.4" height="16.8" class="z"/></g>
<g transform="translate(0,276.8)"><rect x="1299" width="31.4" height="16.8" class="m"/><rect x="1330.2" width="31.4" height="16.8" class="o"/><rect x="1361.3" width="31.4" height="16.8" class="w"/><rect x="1392.5" width="31.4" height="16.8" class="q"/><rect x="1423.7" width="31.4" height="16.8" class="q"/><rect x="1454.8" width="31.4" height="16.8" class="r"/></g>
<g transform="translate(0,293.3)"><rect x="1299" width="31.4" height="16.8" class="l"/><rect x="1330.2" width="31.4" height="16.8" class="p"/><rect x="1361.3" width="31.4" height="16.8" class="o"/><rect x="1392.5" width="31.4" height="16.8" class="q"/><rect x="1423.7" width="31.4" height="16.8" class="q"/><rect x="1454.8" width="31.4" height="16.8" class="s"/></g>
<g transform="translate(0,309.9)"><rect x="1299" width="31.4" height="16.8" class="l"/><rect x="1330.2" width="31.4" height="16.8" class="o"/><rect x="1361.3" width="31.4" height="16.8" class="o"/><rect x="1392.5" width="31.4" height="16.8" class="p"/><rect x="1423.7" width="31.4" height="16.8" class="q"/><rect x="1454.8" width="31.4" height="16.8" class="s"/></g>
<g transform="translate(0,326.4)"><rect x="1299" width="31.4" height="16.8" class="n"/><rect x="1330.2" width="31.4" height="16.8" class="m"/><rect x="1361.3" width="31.4" height="16.8" class="o"/><rect x="1392.5" width="31.4" height="16.8" class="p"/><rect x="1423.7" width="31.4" height="16.8" class="q"/><rect x="1454.8" width="31.4" height="16.8" class="s"/></g>
<g transform="translate(0,343)"><rect x="1299" width="31.4" height="16.8" class="m"/><rect x="1330.2" width="31.4" height="16.8" class="o"/><rect x="1361.3" width="31.4" height="16.8" class="o"/><rect x="1392.5" width="31.4" height="16.8" class="o"/><rect x="1423.7" width="31.4" height="16.8" class="q"/><rect x="1454.8" width="31.4" height="16.8" class="r"/></g>
<g transform="translate(0,359.5)"><rect x="1299" width="31.4" height="16.8" class="w"/><rect x="1330.2" width="31.4" height="16.8" class="o"/><rect x="1361.3" width="31.4" height="16.8" class="n"/><rect x="1392.5" width="31.4" height="16.8" class="q"/><rect x="1423.7" width="31.4" height="16.8" class="q"/><rect x="1454.8" width="31.4" height="16.8" class="s"/></g>
<g transform="translate(0,376.1)"><rect x="1299" width="31.4" height="16.8" class="w"/><rect x="1330.2" width="31.4" height="16.8" class="o"/><rect x="1361.3" width="31.4" height="16.8" class="n"/><rect x="1392.5" width="31.4" height="16.8" class="w"/><rect x="1423.7" width="31.4" height="16.8" class="q"/><rect x="1454.8" width="31.4" height="16.8" class="s"/></g>
<g transform="translate(0,392.7)"><rect x="1299" width="31.4" height="16.8" class="n"/><rect x="1330.2" width="31.4" height="16.8" class="w"/><rect x="1361.3" width="31.4" height="16.8" class="o"/><rect x="1392.5" width="31.4" height="16.8" class="n"/><rect x="1423.7" width="31.4" height="16.8" class="q"/><rect x="1454.8" width="31.4" height="16.8" class="s"/></g>
<g transform="translate(0,409.2)"><rect x="1299" width="31.4" height="16.8" class="m"/><rect x="1330.2" width="31.4" height="16.8" class="w"/><rect x="1361.3" width="31.4" height="16.8" class="o"/><rect x="1392.5" width="31.4" height="16.8" class="p"/><rect x="1423.7" width="31.4" height="16.8" class="r"/><rect x="1454.8" width="31.4" height="16.8" class="t"/></g>
<g transform="translate(0,425.8)"><rect x="1299" width="31.4" height="16.8" class="l"/><rect x="1330.2" width="31.4" height="16.8" class="o"/><rect x="1361.3" width="31.4" height="16.8" class="p"/><rect x="1392.5" width="31.4" height="16.8" class="p"/><rect x="1423.7" width="31.4" height="16.8" class="r"/><rect x="1454.8" width="31.4" height="16.8" class="t"/></g>
<g transform="translate(0,442.3)"><rect x="1299" width="31.4" height="16.8" class="l"/><rect x="1330.2" width="31.4" height="16.8" class="o"/><rect x="1361.3" width="31.4" height="16.8" class="p"/><rect x="1392.5" width="31.4" height="16.8" class="q"/><rect x="1423.7" width="31.4" height="16.8" class="r"/><rect x="1454.8" width="31.4" height="16.8" class="u"/></g>
<g transform="translate(0,458.9)"><rect x="1299" width="31.4" height="16.8" class="n"/><rect x="1330.2" width="31.4" height="16.8" class="o"/><rect x="1361.3" width="31.4" height="16.8" class="o"/><rect x="1392.5" width="31.4" height="16.8" class="r"/><rect x="1423.7" width="31.4" height="16.8" class="r"/><rect x="1454.8" width="31.4" height="16.8" class="u"/></g>
<g transform="translate(0,475.4)"><rect x="1299" width="31.4" height="16.8" class="m"/><rect x="1330.2" width="31.4" height="16.8" class="w"/><rect x="1361.3" width="31.4" height="16.8" class="o"/><rect x="1392.5" width="31.4" height="16.8" class="r"/><rect x="1423.7" width="31.4" height="16.8" class="q"/><rect x="1454.8" width="31.4" height="16.8" class="p"/></g>
<g transform="translate(0,492)"><rect x="1299" width="31.4" height="16.8" class="w"/><rect x="1330.2" width="31.4" height="16.8" class="n"/><rect x="1361.3" width="31.4" height="16.8" class="o"/><rect x="1392.5" width="31.4" height="16.8" class="r"/><rect x="1423.7" width="31.4" height="16.8" class="p"/><rect x="1454.8" width="31.4" height="16.8" class="p"/></g>
<g transform="translate(0,508.5)"><rect x="1299" width="31.4" height="16.8" class="p"/><rect x="1330.2" width="31.4" height="16.8" class="m"/><rect x="1361.3" width="31.4" height="16.8" class="w"/><rect x="1392.5" width="31.4" height="16.8" class="s"/><rect x="1423.7" width="31.4" height="16.8" class="r"/><rect x="1454.8" width="31.4" height="16.8" class="o"/></g>
<g transform="translate(0,525.1)"><rect x="1299" width="31.4" height="16.8" class="w"/><rect x="1330.2" width="31.4" height="16.8" class="w"/><rect x="1361.3" width="31.4" height="16.8" class="w"/><rect x="1392.5" width="31.4" height="16.8" class="p"/><rect x="1423.7" width="31.4" height="16.8" class="p"/><rect x="1454.8" width="31.4" height="16.8" class="o"/></g>
<g transform="translate(0,541.6)"><rect x="1299" width="31.4" height="16.8" class="o"/><rect x="1330.2" width="31.4" height="16.8" class="m"/><rect x="1361.3" width="31.4" height="16.8" class="w"/><rect x="1392.5" width="31.4" height="16.8" class="q"/><rect x="1423.7" width="31.4" height="16.8" class="w"/><rect x="1454.8" width="31.4" height="16.8" class="q"/></g>
<g transform="translate(0,558.2)"><rect x="1299" width="31.4" height="16.8" class="B"/><rect x="1330.2" width="31.4" height="16.8" class="p"/><rect x="1361.3" width="31.4" height="16.8" class="q"/><rect x="1392.5" width="31.4" height="16.8" class="t"/><rect x="1423.7" width="31.4" height="16.8" class="s"/><rect x="1454.8" width="31.4" height="16.8" class="s"/></g>
<g transform="translate(0,574.7)"><rect x="1299" width="31.4" height="16.8" class="B"/><rect x="1330.2" width="31.4" height="16.8" class="q"/><rect x="1361.3" width="31.4" height="16.8" class="w"/><rect x="1392.5" width="31.4" height="16.8" class="t"/><rect x="1423.7" width="31.4" height="16.8" class="s"/><rect x="1454.8" width="31.4" height="16.8" class="s"/></g>
<g transform="translate(0,591.3)"><rect x="1299" width="31.4" height="16.8" class="B"/><rect x="1330.2" width="31.4" height="16.8" class="q"/><rect x="1361.3" width="31.4" height="16.8" class="o"/><rect x="1392.5" width="31.4" height="16.8" class="t"/><rect x="1423.7" width="31.4" height="16.8" class="s"/><rect x="1454.8" width="31.4" height="16.8" class="x"/></g>
<g transform="translate(0,607.8)"><rect x="1299" width="31.4" height="16.8" class="l"/><rect x="1330.2" width="31.4" height="16.8" class="q"/><rect x="1361.3" width="31.4" height="16.8" class="m"/><rect x="1392.5" width="31.4" height="16.8" class="b"/><rect x="1423.7" width="31.4" height="16.8" class="l"/><rect x="1454.8" width="31.4" height="16.8" class="v"/></g>
<g transform="translate(0,624.4)"><rect x="1299" width="31.4" height="16.8" class="m"/><rect x="1330.2" width="31.4" height="16.8" class="q"/><rect x="1361.3" width="31.4" height="16.8" class="n"/><rect x="1392.5" width="31.4" height="16.8" class="b"/><rect x="1423.7" width="31.4" height="16.8" class="m"/><rect x="1454.8" width="31.4" height="16.8" class="l"/></g>
<g transform="translate(0,640.9)"><rect x="1299" width="31.4" height="16.8" class="n"/><rect x="1330.2" width="31.4" height="16.8" class="p"/><rect x="1361.3" width="31.4" height="16.8" class="w"/><rect x="1392.5" width="31.4" height="16.8" class="b"/><rect x="1423.7" width="31.4" height="16.8" class="l"/><rect x="1454.8" width="31.4" height="16.8" class="l"/></g>
<g transform="translate(0,657.5)"><rect x="1299" width="31.4" height="16.8" class="w"/><rect x="1330.2" width="31.4" height="16.8" class="o"/><rect x="1361.3" width="31.4" height="16.8" class="w"/><rect x="1392.5" width="31.4" height="16.8" class="v"/><rect x="1423.7" width="31.4" height="16.8" class="n"/><rect x="1454.8" width="31.4" height="16.8" class="m"/></g>
<g transform="translate(0,674.1)"><rect x="1299" width="31.4" height="16.8" class="m"/><rect x="1330.2" width="31.4" height="16.8" class="o"/><rect x="1361.3" width="31.4" height="16.8" class="o"/><rect x="1392.5" width="31.4" height="16.8" class="l"/><rect x="1423.7" width="31.4" height="16.8" class="v"/><rect x="1454.8" width="31.4" height="16.8" class="l"/></g>
<g transform="translate(0,690.6)"><rect x="1299" width="31.4" height="16.8" class="m"/><rect x="1330.2" width="31.4" height="16.8" class="p"/><rect x="1361.3" width="31.4" height="16.8" class="w"/><rect x="1392.5" width="31.4" height="16.8" class="l"/><rect x="1423.7" width="31.4" height="16.8" class="l"/><rect x="1454.8" width="31.4" height="16.8" class="m"/></g>
<g transform="translate(0,707.2)"><rect x="1299" width="31.4" height="16.8" class="n"/><rect x="1330.2" width="31.4" height="16.8" class="o"/><rect x="1361.3" width="31.4" height="16.8" class="n"/><rect x="1392.5" width="31.4" height="16.8" class="v"/><rect x="1423.7" width="31.4" height="16.8" class="v"/><rect x="1454.8" width="31.4" height="16.8" class="m"/></g>
<g transform="translate(0,723.7)"><rect x="1299" width="31.4" height="16.8" class="n"/><rect x="1330.2" width="31.4" height="16.8" class="o"/><rect x="1361.3" width="31.4" height="16.8" class="w"/><rect x="1392.5" width="31.4" height="16.8" class="m"/><rect x="1423.7" width="31.4" height="16.8" class="m"/><rect x="1454.8" width="31.4" height="16.8" class="m"/></g>
<g transform="translate(0,740.3)"><rect x="1299" width="31.4" height="16.8" class="n"/><rect x="1330.2" width="31.4" height="16.8" class="o"/><rect x="1361.3" width="31.4" height="16.8" class="w"/><rect x="1392.5" width="31.4" height="16.8" class="m"/><rect x="1423.7" width="31.4" height="16.8" class="m"/><rect x="1454.8" width="31.4" height="16.8" class="m"/></g>
<g transform="translate(0,756.8)"><rect x="1299" width="31.4" height="16.8" class="m"/><rect x="1330.2" width="31.4" height="16.8" class="o"/><rect x="1361.3" width="31.4" height="16.8" class="w"/><rect x="1392.5" width="31.4" height="16.8" class="m"/><rect x="1423.7" width="31.4" height="16.8" class="l"/><rect x="1454.8" width="31.4" height="16.8" class="v"/></g>
<g transform="translate(0,773.4)"><rect x="1299" width="31.4" height="16.8" class="n"/><rect x="1330.2" width="31.4" height="16.8" class="o"/><rect x="1361.3" width="31.4" height="16.8" class="w"/><rect x="1392.5" width="31.4" height="16.8" class="l"/><rect x="1423.7" width="31.4" height="16.8" class="m"/><rect x="1454.8" width="31.4" height="16.8" class="l"/></g>
<g transform="translate(0,789.9)"><rect x="1299" width="31.4" height="16.8" class="w"/><rect x="1330.2" width="31.4" height="16.8" class="o"/><rect x="1361.3" width="31.4" height="16.8" class="w"/><rect x="1392.5" width="31.4" height="16.8" class="l"/><rect x="1423.7" width="31.4" height="16.8" class="m"/><rect x="1454.8" width="31.4" height="16.8" class="v"/></g>
<g transform="translate(0,806.5)"><rect x="1299" width="31.4" height="16.8" class="w"/><rect x="1330.2" width="31.4" height="16.8" class="o"/><rect x="1361.3" width="31.4" height="16.8" class="w"/><rect x="1392.5" width="31.4" height="16.8" class="l"/><rect x="1423.7" width="31.4" height="16.8" class="l"/><rect x="1454.8" width="31.4" height="16.8" class="l"/></g>
<g transform="translate(0,823)"><rect x="1299" width="31.4" height="16.8" class="m"/><rect x="1330.2" width="31.4" height="16.8" class="o"/><rect x="1361.3" width="31.4" height="16.8" class="w"/><rect x="1392.5" width="31.4" height="16.8" class="l"/><rect x="1423.7" width="31.4" height="16.8" class="l"/><rect x="1454.8" width="31.4" height="16.8" class="l"/></g>
<g transform="translate(0,839.6)"><rect x="1299" width="31.4" height="16.8" class="B"/><rect x="1330.2" width="31.4" height="16.8" class="s"/><rect x="1361.3" width="31.4" height="16.8" class="B"/><rect x="1392.5" width="31.4" height="16.8" class="r"/><rect x="1423.7" width="31.4" height="16.8" class="x"/><rect x="1454.8" width="31.4" height="16.8" class="z"/></g>
<g transform="translate(0,856.1)"><rect x="1299" width="31.4" height="16.8" class="B"/><rect x="1330.2" width="31.4" height="16.8" class="p"/><rect x="1361.3" width="31.4" height="16.8" class="q"/><rect x="1392.5" width="31.4" height="16.8" class="B"/><rect x="1423.7" width="31.4" height="16.8" class="t"/><rect x="1454.8" width="31.4" height="16.8" class="x"/></g>
<g transform="translate(0,872.7)"><rect x="1299" width="31.4" height="16.8" class="B"/><rect x="1330.2" width="31.4" height="16.8" class="B"/><rect x="1361.3" width="31.4" height="16.8" class="s"/><rect x="1392.5" width="31.4" height="16.8" class="B"/><rect x="1423.7" width="31.4" height="16.8" class="u"/><rect x="1454.8" width="31.4" height="16.8" class="z"/></g>
<g transform="translate(0,889.2)"><rect x="1299" width="31.4" height="16.8" class="w"/><rect x="1330.2" width="31.4" height="16.8" class="B"/><rect x="1361.3" width="31.4" height="16.8" class="s"/><rect x="1392.5" width="31.4" height="16.8" class="x"/><rect x="1423.7" width="31.4" height="16.8" class="x"/><rect x="1454.8" width="31.4" height="16.8" class="z"/></g>
<g transform="translate(0,905.8)"><rect x="1299" width="31.4" height="16.8" class="B"/><rect x="1330.2" width="31.4" height="16.8" class="B"/><rect x="1361.3" width="31.4" height="16.8" class="s"/><rect x="1392.5" width="31.4" height="16.8" class="x"/><rect x="1423.7" width="31.4" height="16.8" class="u"/><rect x="1454.8" width="31.4" height="16.8" class="z"/></g>
<g transform="translate(0,922.4)"><rect x="1299" width="31.4" height="16.8" class="b"/><rect x="1330.2" width="31.4" height="16.8" class="s"/><rect x="1361.3" width="31.4" height="16.8" class="B"/><rect x="1392.5" width="31.4" height="16.8" class="B"/><rect x="1423.7" width="31.4" height="16.8" class="B"/><rect x="1454.8" width="31.4" height="16.8" class="B"/></g>
<g transform="translate(0,938.9)"><rect x="1299" width="31.4" height="16.8" class="l"/><rect x="1330.2" width="31.4" height="16.8" class="q"/><rect x="1361.3" width="31.4" height="16.8" class="l"/><rect x="1392.5" width="31.4" height="16.8" class="B"/><rect x="1423.7" width="31.4" height="16.8" class="l"/><rect x="1454.8" width="31.4" height="16.8" class="B"/></g>
<g transform="translate(0,955.5)"><rect x="1299" width="31.4" height="16.8" class="v"/><rect x="1330.2" width="31.4" height="16.8" class="q"/><rect x="1361.3" width="31.4" height="16.8" class="w"/><rect x="1392.5" width="31.4" height="16.8" class="B"/><rect x="1423.7" width="31.4" height="16.8" class="b"/><rect x="1454.8" width="31.4" height="16.8" class="B"/></g>
<g transform="translate(0,972)"><rect x="1299" width="31.4" height="16.8" class="m"/><rect x="1330.2" width="31.4" height="16.8" class="p"/><rect x="1361.3" width="31.4" height="16.8" class="w"/><rect x="1392.5" width="31.4" height="16.8" class="b"/><rect x="1423.7" width="31.4" height="16.8" class="B"/><rect x="1454.8" width="31.4" height="16.8" class="B"/></g>
<g transform="translate(0,988.6)"><rect x="1299" width="31.4" height="16.5" class="m"/><rect x="1330.2" width="31.4" height="16.5" class="o"/><rect x="1361.3" width="31.4" height="16.5" class="w"/><rect x="1392.5" width="31.4" height="16.5" class="B"/><rect x="1423.7" width="31.4" height="16.5" class="B"/><rect x="1454.8" width="31.4" height="16.5" class="B"/></g>
</g>
<rect x="1299" y="94.7" width="187" height="910.4" fill="none" stroke="#111" stroke-width="1.6"/>
<line x1="1392.5" y1="94.7" x2="1392.5" y2="1005.1" stroke="#111" stroke-width="1.5"/>
<g class="gn">
<text x="1493" y="108.7">S100a9</text><text x="1493" y="125.3">Cxcl3</text><text x="1493" y="141.8">S100a8</text><text x="1493" y="158.4">Cxcl1</text><text x="1493" y="174.9">Tnfrsf9</text>
<text x="1493" y="191.5">Il1a</text><text x="1493" y="208">Il5ra</text><text x="1493" y="224.6">Cxcl2</text><text x="1493" y="241.1">Cxcl5</text><text x="1493" y="257.7">Gata3</text>
<text x="1493" y="274.2">Chil1</text><text x="1493" y="290.8">Il33</text><text x="1493" y="307.3">Hp</text><text x="1493" y="323.9">Acod1</text><text x="1493" y="340.4">Il1b</text>
<text x="1493" y="357">Saa3</text><text x="1493" y="373.5">Slc7a2</text><text x="1493" y="390.1">Ighg1</text><text x="1493" y="406.7">Ccl4</text><text x="1493" y="423.2">Chil3</text>
<text x="1493" y="439.8">Ccl3</text><text x="1493" y="456.3">Il1r2</text><text x="1493" y="472.9">Il1rl1</text><text x="1493" y="489.4">Ier3</text><text x="1493" y="506">Ccl20</text>
<text x="1493" y="522.5">Nfkbiz</text><text x="1493" y="539.1">Gpx2</text><text x="1493" y="555.6">Socs3</text><text x="1493" y="572.2">Ccl24</text><text x="1493" y="588.7">Il17f</text>
<text x="1493" y="605.3">Olr1</text><text x="1493" y="621.8">C1qtnf3</text><text x="1493" y="638.4">Tbxa2r</text><text x="1493" y="654.9">Scn9a</text><text x="1493" y="671.5">Ighg2b</text>
<text x="1493" y="688.1">Cd96</text><text x="1493" y="704.6">Cd163</text><text x="1493" y="721.2">Ccl11</text><text x="1493" y="737.7">Tspan2</text><text x="1493" y="754.3">Aoc3</text>
<text x="1493" y="770.8">Ak7</text><text x="1493" y="787.4">Wfdc1</text><text x="1493" y="803.9">Cxcr3</text><text x="1493" y="820.5">Agtr1a</text><text x="1493" y="837">Cxcr6</text>
<text x="1493" y="853.6">Nlrp12</text><text x="1493" y="870.1">Itgb2l</text><text x="1493" y="886.7">Il1f6</text><text x="1493" y="903.2">Cxcr2</text><text x="1493" y="919.8">Il6</text>
<text x="1493" y="936.4">Tpsb2</text><text x="1493" y="952.9">Il31ra</text><text x="1493" y="969.5">Bmpr1b</text><text x="1493" y="986">Gpr33</text><text x="1493" y="1002.6">Kl</text>
</g>
<!-- colorbar -->
<g>
<rect x="1389.3" y="1016.3" width="19.3" height="19.7" fill="#2c5aa8"/>
<rect x="1408.6" y="1016.3" width="19.3" height="19.7" fill="#6f80c2"/>
<rect x="1427.9" y="1016.3" width="19.3" height="19.7" fill="#ffffff"/>
<rect x="1447.2" y="1016.3" width="19.3" height="19.7" fill="#f47070"/>
<rect x="1466.5" y="1016.3" width="19.2" height="19.7" fill="#ee3030"/>
<rect x="1389.3" y="1016.3" width="96.4" height="19.7" fill="none" stroke="#111" stroke-width="1.4"/>
</g>
<text x="1490" y="1032" font-size="20">log<tspan font-size="13">2</tspan>FC</text>
<g font-size="20" text-anchor="middle">
<text x="1396.8" y="1059">-5</text><text x="1437.5" y="1059">0</text><text x="1475" y="1059">5</text>
</g>
</svg>
</body></html>
